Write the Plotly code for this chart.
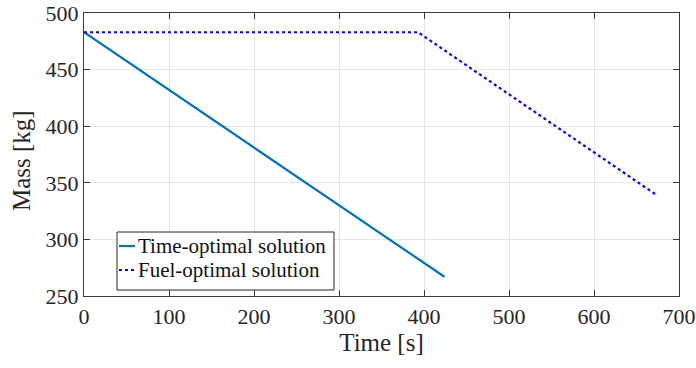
import plotly.graph_objects as go

# Mass history of the two trajectory solutions
time_opt_t = [0, 424]
time_opt_m = [483, 267]

fuel_opt_t = [0, 393, 672]
fuel_opt_m = [483, 483, 340]

x_ticks = [0, 100, 200, 300, 400, 500, 600, 700]
y_ticks = [250, 300, 350, 400, 450, 500]

series_names = ["Time-optimal solution", "Fuel-optimal solution"]
series_colors = ["#0072BD", "#0000FF"]
series_dash = ["solid", "dot"]

FONT = "Liberation Serif"
AXIS_COLOR = "#3a3a3a"
GRID_COLOR = "#e6e6e6"
TEXT_COLOR = "#262626"

W, H = 696, 368
M_L, M_R, M_T, M_B = 84, 17, 13, 72
PLOT_W = W - M_L - M_R
PLOT_H = H - M_T - M_B


def px(x):
    """Horizontal pixel position -> paper fraction."""
    return (x - M_L) / PLOT_W


def py(y):
    """Vertical pixel position (from top) -> paper fraction."""
    return (H - M_B - y) / PLOT_H


fig = go.Figure()
for xs, ys, name, color, dash in zip(
    [time_opt_t, fuel_opt_t], [time_opt_m, fuel_opt_m],
    series_names, series_colors, series_dash,
):
    fig.add_trace(go.Scatter(
        x=xs, y=ys, mode="lines", name=name, showlegend=False,
        line=dict(color=color, width=2.2, dash=dash),
    ))

axis_common = dict(
    showgrid=True, gridcolor=GRID_COLOR, gridwidth=1,
    showline=True, linecolor=AXIS_COLOR, linewidth=1.3,
    mirror="ticks", ticks="inside", ticklen=6, tickwidth=1.3,
    tickcolor=AXIS_COLOR, zeroline=False,
    ticklabeloverflow="allow", automargin=False,
    tickfont=dict(family=FONT, size=22, color=TEXT_COLOR),
)

fig.update_xaxes(
    range=[0, 700], tickvals=x_ticks,
    title=dict(text="Time [s]", font=dict(family=FONT, size=25, color=TEXT_COLOR), standoff=4),
    **axis_common,
)
fig.update_yaxes(range=[250, 500], tickvals=y_ticks, **axis_common)

# y-axis label
fig.add_annotation(
    text="Mass [kg]", textangle=-90, showarrow=False,
    xref="paper", yref="paper", x=px(22), y=py(161),
    xanchor="center", yanchor="middle",
    font=dict(family=FONT, size=25, color=TEXT_COLOR),
)

# legend box with short line samples
box_l, box_r, box_t, box_b = 117, 334, 232, 290
fig.add_shape(
    type="rect", xref="paper", yref="paper",
    x0=px(box_l), x1=px(box_r), y0=py(box_b), y1=py(box_t),
    line=dict(color="#262626", width=1), fillcolor="white", layer="above",
)
row_y = [246, 270]
for name, color, dash, ry in zip(series_names, series_colors, series_dash, row_y):
    fig.add_shape(
        type="line", xref="paper", yref="paper",
        x0=px(119), x1=px(135), y0=py(ry), y1=py(ry),
        line=dict(color=color, width=2.2, dash=dash), layer="above",
    )
    fig.add_annotation(
        text=name, showarrow=False, xref="paper", yref="paper",
        x=px(136), y=py(ry), xanchor="left", yanchor="middle",
        font=dict(family=FONT, size=21, color="#111111"),
    )

fig.update_layout(
    width=W, height=H,
    margin=dict(l=M_L, r=M_R, t=M_T, b=M_B),
    font=dict(family=FONT, color=TEXT_COLOR),
    plot_bgcolor="white", paper_bgcolor="white",
    showlegend=False,
)

fig.write_html("out.html")
